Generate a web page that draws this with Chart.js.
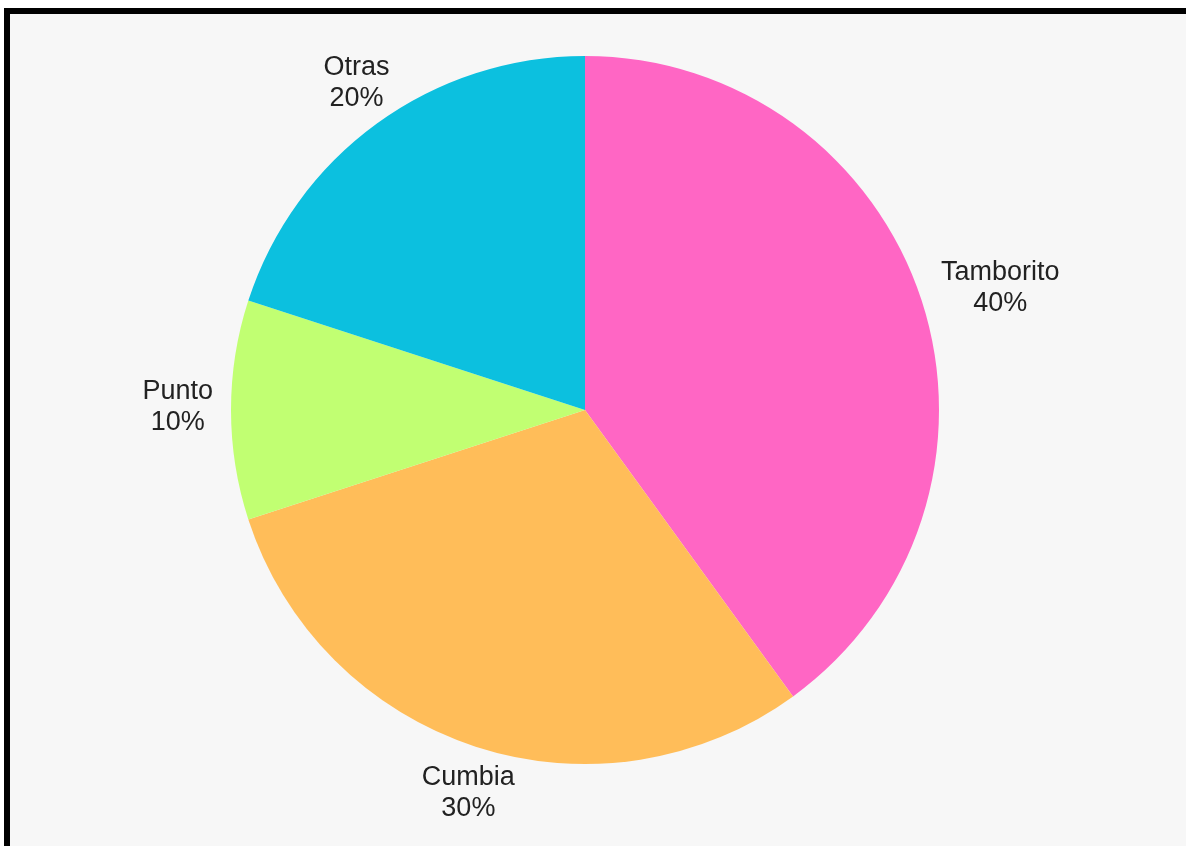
<!DOCTYPE html>
<html>
<head>
<meta charset="utf-8">
<script src="https://cdn.jsdelivr.net/npm/chart.js@4"></script>
<style>
  html, body { margin: 0; padding: 0; background: #ffffff; overflow: hidden; }
  .frame {
    position: absolute; left: 4px; top: 8px;
    width: 1200px; height: 860px;
    border: 6px solid #000; background: #f7f7f7;
  }
  #pieChart { position: absolute; left: 0; top: 0; }
</style>
</head>
<body>
<div class="frame"></div>
<canvas id="pieChart" width="1186" height="846"></canvas>
<script>
var labels = ['Tamborito', 'Cumbia', 'Punto', 'Otras'];
var values = [40, 30, 10, 20];
var colors = ['#ff66c4', '#ffbd59', '#c1ff72', '#0cc0df'];

// draws "name / pct%" outside each slice
var outsideLabels = {
    id: 'outsideLabels',
    afterDatasetsDraw: function(chart) {
        var ctx = chart.ctx;
        var meta = chart.getDatasetMeta(0);
        var total = values.reduce(function(a, b) { return a + b; }, 0);
        ctx.save();
        ctx.font = '27px "Liberation Sans", Arial, sans-serif';
        ctx.fillStyle = '#222';
        ctx.textAlign = 'center';
        ctx.textBaseline = 'middle';
        meta.data.forEach(function(arc, i) {
            var mid = (arc.startAngle + arc.endAngle) / 2;
            var dx = Math.cos(mid), dy = Math.sin(mid);
            var l1 = labels[i];
            var l2 = Math.round(values[i] / total * 100) + '%';
            var w = Math.max(ctx.measureText(l1).width, ctx.measureText(l2).width);
            var h = 62;
            var d = arc.outerRadius + 22;
            var x = arc.x + dx * (d + w / 2 * Math.abs(dx)) + 4;
            var y = arc.y + dy * (d + h / 2 * Math.abs(dy)) - 3;
            ctx.fillText(l1, x, y - 15);
            ctx.fillText(l2, x, y + 16);
        });
        ctx.restore();
    }
};

var ctx1 = document.getElementById('pieChart').getContext('2d');
var pieChart = new Chart(ctx1, {
    type: 'pie',
    data: {
        labels: labels,
        datasets: [{
            data: values,
            backgroundColor: colors,
            borderWidth: 0
        }]
    },
    options: {
        responsive: false,
        animation: false,
        layout: { padding: { left: 231, right: 247, top: 56, bottom: 82 } },
        plugins: {
            legend: { display: false },
            tooltip: { enabled: false }
        }
    },
    plugins: [outsideLabels]
});
</script>
</body>
</html>
